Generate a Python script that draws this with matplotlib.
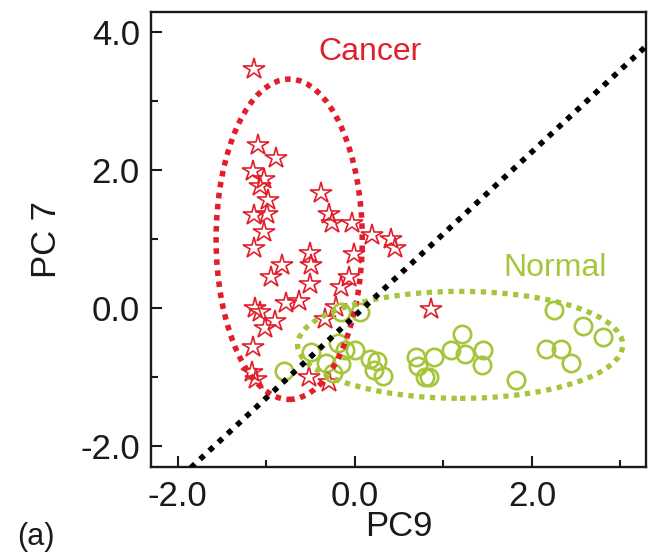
import matplotlib
matplotlib.use("Agg")
import matplotlib.pyplot as plt
from matplotlib.patches import Ellipse
from matplotlib.ticker import MultipleLocator, FormatStrFormatter

# ---------------- data ----------------
cancer_pc9 = [-1.14, -1.09, -0.89, -1.15, -1.03, -1.07, -0.98, -1.14, -0.99, -1.03,
              -1.14, -0.38, -0.29, -0.26, -0.03, 0.19, 0.41, 0.45, -0.50, -0.49,
              -0.82, -0.94, -0.50, -0.01, -0.07, -0.16, -1.13, -0.78, -0.63, -1.07,
              -0.90, -1.01, -1.15, -0.21, -0.34, -1.12, -1.16, -0.52, -0.29, 0.86]
cancer_pc7 = [3.45, 2.36, 2.17, 1.98, 1.86, 1.76, 1.56, 1.34, 1.35, 1.10,
              0.87, 1.66, 1.35, 1.22, 1.22, 1.05, 1.00, 0.86, 0.79, 0.62,
              0.62, 0.44, 0.34, 0.77, 0.44, 0.30, 0.00, 0.07, 0.09, -0.07,
              -0.19, -0.29, -0.57, 0.01, -0.17, -1.03, -0.94, -1.00, -1.08, -0.02]

normal_pc9 = [-0.80, -0.49, -0.32, -0.25, -0.19, -0.11, -0.15, 0.00, -0.16, 0.06,
              0.17, 0.25, 0.22, 0.32, 0.69, 0.71, 0.79, 0.84, 0.90, 1.09,
              1.21, 1.25, 1.45, 1.44, 1.82, 2.16, 2.33, 2.44, 2.25, 2.58, 2.80]
normal_pc7 = [-0.92, -0.65, -0.81, -0.95, -0.51, -0.62, -0.82, -0.62, -0.07, -0.07,
              -0.75, -0.77, -0.90, -0.99, -0.72, -0.85, -1.00, -1.01, -0.72, -0.62,
              -0.38, -0.67, -0.61, -0.83, -1.05, -0.60, -0.60, -0.80, -0.04, -0.27, -0.42]

# decision line endpoints (PC9, PC7)
divider_pc9 = [-1.85, 3.35]
divider_pc7 = [-2.32, 3.86]

# group ellipses: centre, width, height (data units)
cancer_ellipse = dict(center=(-0.74, 0.99), width=1.65, height=4.64)
normal_ellipse = dict(center=(1.19, -0.54), width=3.67, height=1.55)

x_ticks = [-2.0, 0.0, 2.0]
y_ticks = [-2.0, 0.0, 2.0, 4.0]

red = "#e11f2c"
green = "#a5c63a"
ink = "#1a1a1a"

plt.rcParams["font.family"] = ["Liberation Sans", "DejaVu Sans"]

fig = plt.figure(figsize=(6.58, 5.54), dpi=100)
ax = fig.add_axes([0.2295, 0.157, 0.7525, 0.821])

ax.plot(cancer_pc9, cancer_pc7, linestyle="none", marker="*", markersize=16,
        markerfacecolor="none", markeredgecolor=red, markeredgewidth=1.2, zorder=3)
ax.plot(normal_pc9, normal_pc7, linestyle="none", marker="o", markersize=12.5,
        markerfacecolor="none", markeredgecolor=green, markeredgewidth=1.9, zorder=3)

e1 = Ellipse(xy=cancer_ellipse["center"], width=cancer_ellipse["width"],
             height=cancer_ellipse["height"], fill=False, edgecolor=red,
             linewidth=4.0, linestyle=(0, (1, 1.0)), zorder=4)
e2 = Ellipse(xy=normal_ellipse["center"], width=normal_ellipse["width"],
             height=normal_ellipse["height"], fill=False, edgecolor=green,
             linewidth=3.8, linestyle=(0, (1, 1.05)), zorder=4)
ax.add_patch(e1)
ax.add_patch(e2)

ax.plot(divider_pc9, divider_pc7, color="black", linewidth=4.0,
        linestyle=(0, (1, 1.25)), zorder=5)

ax.text(0.17, 3.71, "Cancer", color=red, fontsize=23, ha="center", va="center")
ax.text(2.26, 0.57, "Normal", color=green, fontsize=23, ha="center", va="center")

ax.set_xlim(-2.30, 3.29)
ax.set_ylim(-2.31, 4.28)
ax.set_xticks(x_ticks)
ax.set_yticks(y_ticks)
ax.xaxis.set_major_formatter(FormatStrFormatter("%.1f"))
ax.yaxis.set_major_formatter(FormatStrFormatter("%.1f"))
ax.xaxis.set_minor_locator(MultipleLocator(1.0))
ax.yaxis.set_minor_locator(MultipleLocator(1.0))
ax.tick_params(axis="both", which="major", direction="in", length=8, width=1.5,
               labelsize=25, colors=ink)
ax.tick_params(axis="both", which="minor", direction="in", length=5, width=1.5,
               colors=ink)
ax.tick_params(axis="x", which="major", pad=9)
ax.tick_params(axis="y", which="major", pad=8)
for s in ax.spines.values():
    s.set_linewidth(1.7)
    s.set_color(ink)

ax.set_xlabel("PC9", fontsize=25, color=ink, labelpad=-2)
ax.set_ylabel("PC 7", fontsize=25, color=ink, labelpad=12)

fig.text(0.026, 0.003, "(a)", fontsize=22, color=ink, ha="left", va="bottom")

fig.savefig("out.png", dpi=100)
